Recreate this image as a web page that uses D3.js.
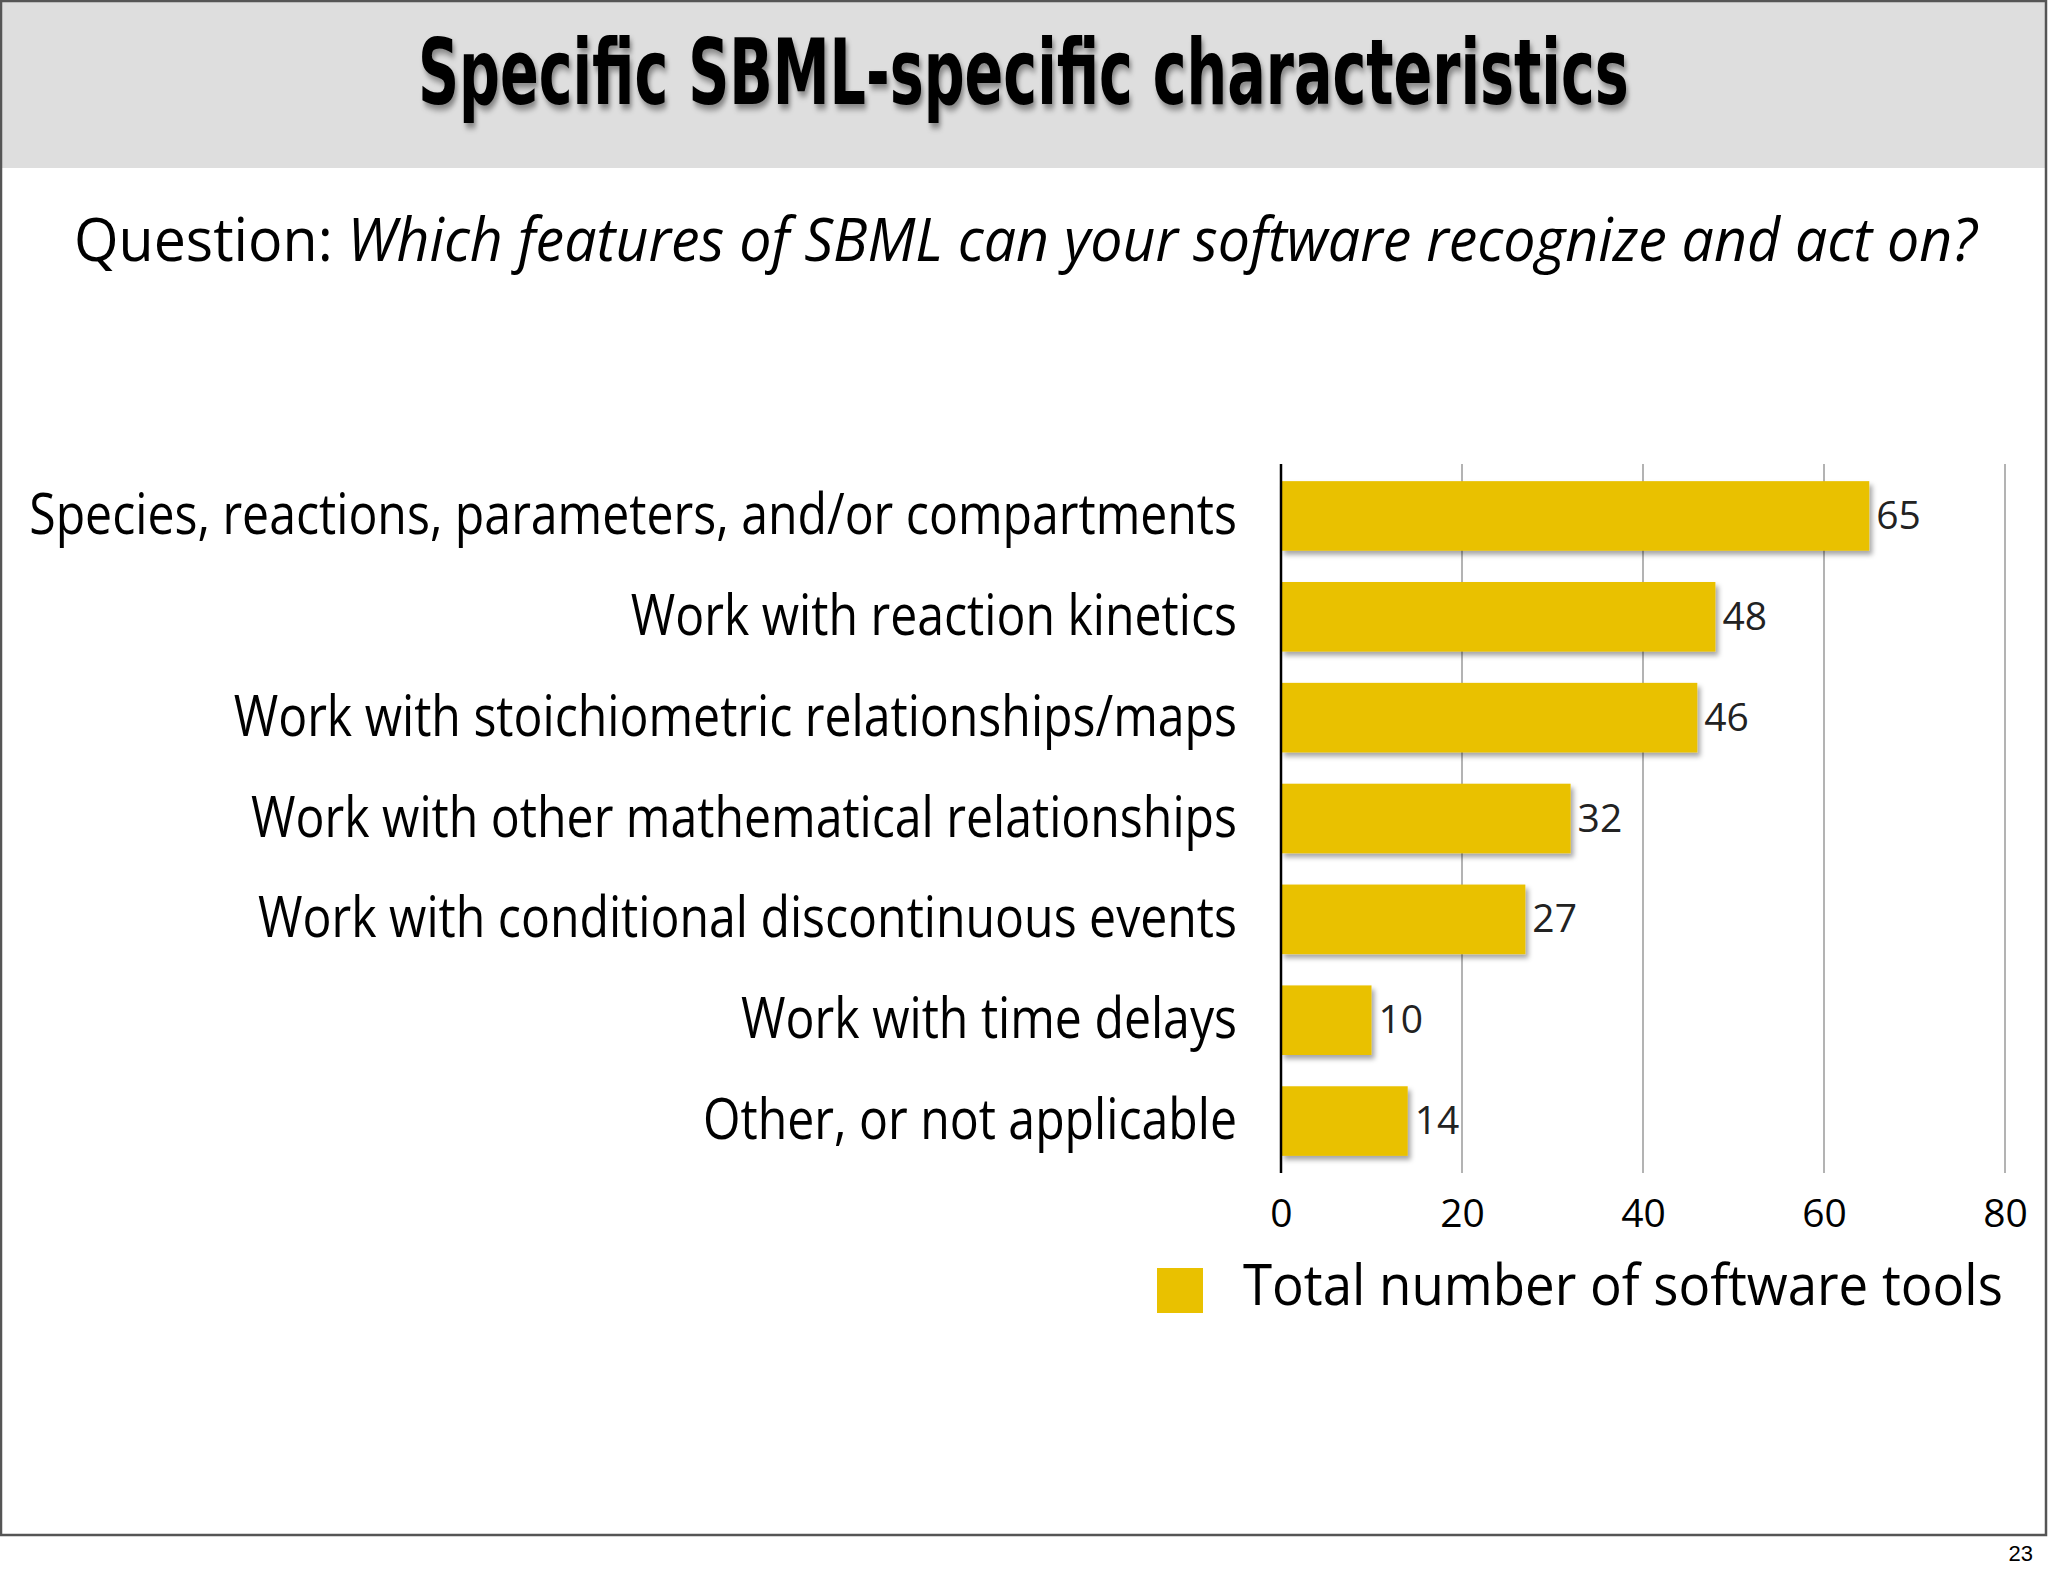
<!DOCTYPE html>
<html>
<head>
<meta charset="utf-8">
<script src="https://cdn.jsdelivr.net/npm/d3@7"></script>
<style>
html,body{margin:0;padding:0;background:#fff;}
svg{display:block;}
</style>
</head>
<body>
<svg id="chart" width="2048" height="1576"></svg>
<script>
const titleText = "Specific SBML-specific characteristics";
const questionLead = "Question: ";
const questionBody = "Which features of SBML can your software recognize and act on?";
const categories = [
  "Species, reactions, parameters, and/or compartments",
  "Work with reaction kinetics",
  "Work with stoichiometric relationships/maps",
  "Work with other mathematical relationships",
  "Work with conditional discontinuous events",
  "Work with time delays",
  "Other, or not applicable"
];
const values = [65, 48, 46, 32, 27, 10, 14];
const xTicks = [0, 20, 40, 60, 80];
const seriesName = "Total number of software tools";
const pageNumber = "23";

const W = 2048, H = 1576;
const svg = d3.select("#chart");
const FONT = "'Open Sans','Noto Sans','DejaVu Sans',sans-serif";
const BAR = "#E9C100";

// place a text at (x,y) squeezed horizontally by sx (via transform, not textLength)
function placeScaled(sel, x, y, sx){
  sel.attr("x",0).attr("y",0).attr("transform",`translate(${x},${y}) scale(${sx},1)`);
}

const defs = svg.append("defs");
const fs = defs.append("filter").attr("id","barShadow").attr("x","-10%").attr("y","-20%").attr("width","130%").attr("height","150%");
fs.append("feDropShadow").attr("dx",3).attr("dy",4).attr("stdDeviation",2.5).attr("flood-color","#000").attr("flood-opacity",0.35);
const ft = defs.append("filter").attr("id","titleShadow").attr("x","-5%").attr("y","-20%").attr("width","110%").attr("height","150%");
ft.append("feDropShadow").attr("dx",3).attr("dy",5).attr("stdDeviation",3).attr("flood-color","#000").attr("flood-opacity",0.4);

// background & header
svg.append("rect").attr("x",0).attr("y",0).attr("width",W).attr("height",H).attr("fill","#fff");
svg.append("rect").attr("x",1).attr("y",1).attr("width",2045).attr("height",167).attr("fill","#dedede");
svg.append("rect").attr("x",1).attr("y",1).attr("width",2045).attr("height",1534)
  .attr("fill","none").attr("stroke","#555").attr("stroke-width",2.5);

// title
const tt = svg.append("text")
  .attr("font-family","'Liberation Sans Narrow','DejaVu Sans Condensed','Open Sans',sans-serif")
  .attr("font-weight",700).attr("font-size",90).attr("fill","#000")
  .attr("filter","url(#titleShadow)")
  .text(titleText);
placeScaled(tt, 418, 104, 1211/tt.node().getComputedTextLength());

// question
const q = svg.append("text")
  .attr("font-family",FONT).attr("font-size",60).attr("fill","#000");
q.append("tspan").text(questionLead);
q.append("tspan").attr("font-style","italic").text(questionBody);
placeScaled(q, 74, 261, 1903/q.node().getComputedTextLength());

// scales
const x = d3.scaleLinear().domain([0,80]).range([1281,2005]);
const y = d3.scaleBand().domain(categories).range([464,1173]).paddingInner(0.31).paddingOuter(0.17);

// gridlines
svg.append("g").selectAll("line").data(xTicks.filter(d=>d>0)).join("line")
  .attr("x1",d=>x(d)).attr("x2",d=>x(d)).attr("y1",464).attr("y2",1173)
  .attr("stroke","#ababab").attr("stroke-width",1.8);

// bars
svg.append("g").selectAll("rect").data(values).join("rect")
  .attr("x",x(0)).attr("y",(d,i)=>y(categories[i]))
  .attr("width",d=>x(d)-x(0)).attr("height",y.bandwidth())
  .attr("fill",BAR).attr("filter","url(#barShadow)");

// axis line
svg.append("line").attr("x1",x(0)).attr("x2",x(0)).attr("y1",464).attr("y2",1173)
  .attr("stroke","#000").attr("stroke-width",2.5);

// value labels
svg.append("g").selectAll("text").data(values).join("text")
  .attr("x",d=>x(d)+7).attr("y",(d,i)=>y(categories[i])+y.bandwidth()/2+13)
  .attr("font-family",FONT).attr("font-size",39).attr("fill","#222")
  .text(d=>d);

// category labels
const labs = svg.append("g").selectAll("text").data(categories).join("text")
  .attr("text-anchor","end")
  .attr("font-family",FONT).attr("font-size",56).attr("fill","#000")
  .text(d=>d);
const ratio = 1208/labs.nodes()[0].getComputedTextLength();
labs.each(function(d){ placeScaled(d3.select(this), 1237, y(d)+y.bandwidth()/2+18, ratio); });

// x tick labels via axis
const axis = d3.axisBottom(x).tickValues(xTicks).tickSize(0).tickPadding(0);
const ag = svg.append("g").attr("transform","translate(0,1173)").call(axis);
ag.select(".domain").remove();
ag.selectAll("text").attr("font-family",FONT).attr("font-size",39).attr("fill","#000")
  .attr("dy",null).attr("y",54);

// legend
svg.append("rect").attr("x",1157).attr("y",1268).attr("width",46).attr("height",45).attr("fill",BAR);
const lt = svg.append("text")
  .attr("font-family",FONT).attr("font-size",56).attr("fill","#000").text(seriesName);
placeScaled(lt, 1243, 1305, 760/lt.node().getComputedTextLength());

// page number
svg.append("text").attr("x",2033).attr("y",1561).attr("text-anchor","end")
  .attr("font-family","'Liberation Sans',Arial,sans-serif").attr("font-size",22).attr("fill","#000")
  .text(pageNumber);
</script>
</body>
</html>
